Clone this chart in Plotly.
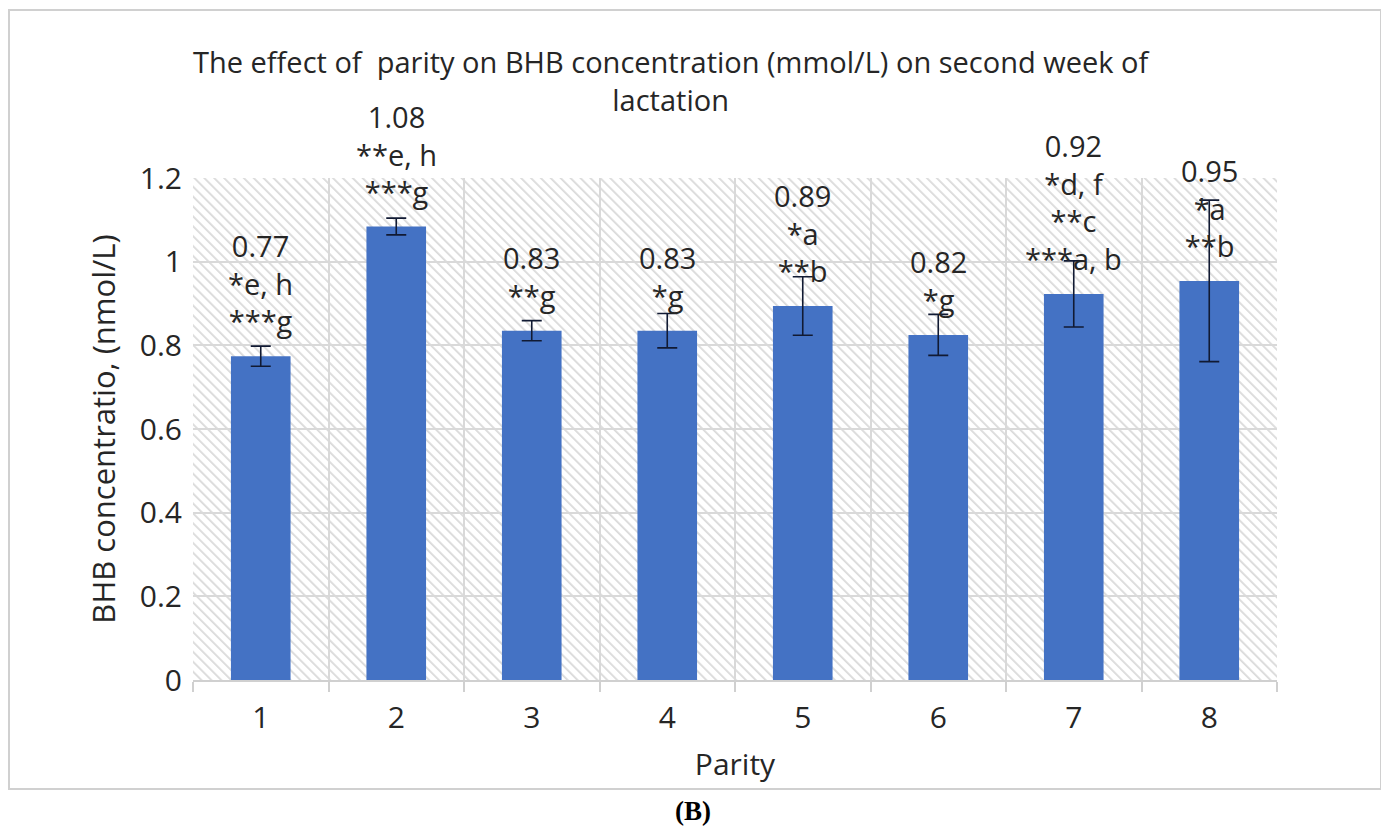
import base64
import plotly.graph_objects as go

parity = ["1", "2", "3", "4", "5", "6", "7", "8"]
bhb_mean = [0.774, 1.084, 0.835, 0.835, 0.894, 0.825, 0.923, 0.954]
bhb_err = [0.024, 0.020, 0.024, 0.041, 0.070, 0.049, 0.079, 0.193]
value_labels = ["0.77", "1.08", "0.83", "0.83", "0.89", "0.82", "0.92", "0.95"]
sig_labels = [
    ["*e, h", "***g"],
    ["**e, h", "***g"],
    ["**g"],
    ["*g"],
    ["*a", "**b"],
    ["*g"],
    ["*d, f", "**c", "***a, b"],
    ["*a", "**b"],
]
y_ticks = [0, 0.2, 0.4, 0.6, 0.8, 1.0, 1.2]
y_tick_text = ["0", "0.2", "0.4", "0.6", "0.8", "1", "1.2"]

FONT = "Open Sans"
TXT = "#262626"
# the page body adds an 8px offset; the figure is drawn 8px smaller and shifted
OFF = 8
W, H = 1389 - OFF, 830 - OFF
# plot-area edges in window pixels
L, R, T, B = 193, 1277, 178, 680
PW, PH = R - L, B - T

def px(x):
    return (x - L) / PW

def py(y):
    return (B - y) / PH

# hatched plot background
svg = (
    f"<svg xmlns='http://www.w3.org/2000/svg' width='{PW}' height='{PH}' viewBox='0 0 {PW} {PH}' preserveAspectRatio='none'>"
    "<defs><pattern id='p' width='7' height='7' patternUnits='userSpaceOnUse' patternTransform='rotate(-45)'>"
    "<rect width='7' height='7' fill='white'/>"
    "<line x1='0' y1='0' x2='0' y2='7' stroke='#dadada' stroke-width='3.6'/></pattern></defs>"
    f"<rect width='{PW}' height='{PH}' fill='url(#p)'/></svg>"
)
svg_uri = "data:image/svg+xml;base64," + base64.b64encode(svg.encode()).decode()

fig = go.Figure()
fig.add_trace(go.Bar(
    x=parity, y=bhb_mean,
    marker=dict(color="#4472C4", line=dict(width=0)),
    error_y=dict(type="data", array=bhb_err, visible=True, color="#111a33", thickness=1.6, width=10),
    hoverinfo="x+y",
))

for i, (v, lab, sig) in enumerate(zip(bhb_mean, value_labels, sig_labels)):
    fig.add_annotation(
        x=i, y=v, xref="x", yref="y",
        text="<br>".join([lab] + sig),
        showarrow=False, yanchor="bottom", yshift=14,
        font=dict(family=FONT, size=29, color=TXT),
    )

fig.add_annotation(
    x=px(671), y=py(81), xref="paper", yref="paper",
    text="The effect of  parity on BHB concentration (mmol/L) on second week of<br>lactation",
    showarrow=False, xanchor="center", yanchor="middle",
    font=dict(family=FONT, size=29, color=TXT),
)
fig.add_annotation(
    x=px(693), y=py(811), xref="paper", yref="paper",
    text="<b>(B)</b>", showarrow=False, xanchor="center", yanchor="middle",
    font=dict(family="Liberation Serif", size=27, color="#000000"),
)

fig.add_shape(type="rect", xref="paper", yref="paper",
              x0=px(9), x1=px(1381), y0=py(789), y1=py(10),
              line=dict(color="#d0d0d0", width=2), fillcolor="rgba(0,0,0,0)", layer="below")

fig.add_layout_image(dict(
    source=svg_uri, xref="paper", yref="paper", x=0, y=1, sizex=1, sizey=1,
    xanchor="left", yanchor="top", sizing="stretch", layer="below",
))

fig.update_layout(
    width=W, height=H,
    margin=dict(l=L - OFF, r=(1389 - R), t=T - OFF, b=(830 - B), pad=0),
    paper_bgcolor="white", plot_bgcolor="white",
    bargap=0.56, showlegend=False,
    font=dict(family=FONT, color=TXT),
    xaxis=dict(
        type="category", tickson="boundaries", ticks="outside", ticklen=10,
        tickcolor="#d0d0d0", tickwidth=2,
        showgrid=True, gridcolor="#d9d9d9", gridwidth=1.5,
        showline=True, linecolor="#d0d0d0", linewidth=2,
        tickfont=dict(family=FONT, size=30, color=TXT), ticklabelstandoff=10,
        title=dict(text="Parity", font=dict(family=FONT, size=30, color=TXT), standoff=18),
    ),
    yaxis=dict(
        range=[0, 1.2], tickvals=y_ticks, ticktext=y_tick_text,
        showgrid=True, gridcolor="#d9d9d9", gridwidth=1.5,
        zeroline=False, showline=False, ticks="",
        tickfont=dict(family=FONT, size=30, color=TXT), ticklabelstandoff=10,
        title=dict(text="BHB concentratio, (nmol/L)", font=dict(family=FONT, size=31, color=TXT), standoff=14),
    ),
)

fig.write_html("out.html")
